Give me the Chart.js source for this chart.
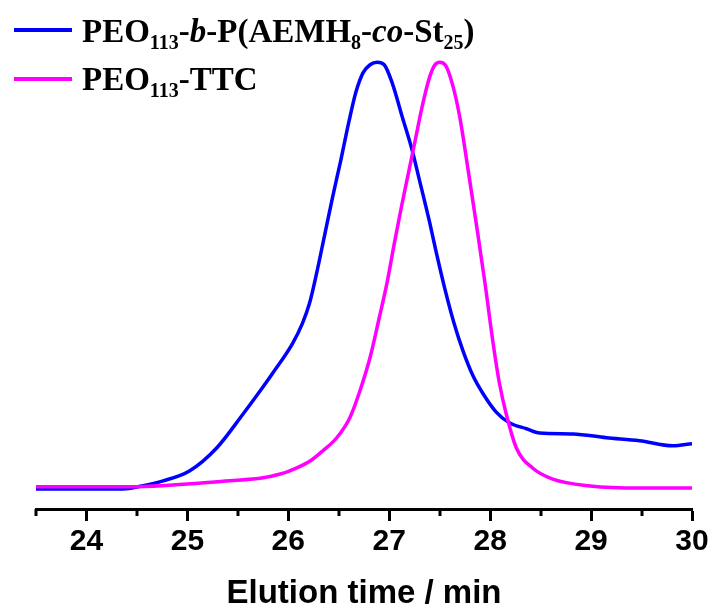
<!DOCTYPE html>
<html lang="en">
<head>
  <meta charset="UTF-8">
  <title>GPC traces</title>
  <script src="https://cdn.jsdelivr.net/npm/chart.js"></script>
  <style>
    html, body { margin: 0; padding: 0; background: #fff; }
    #wrap { position: relative; width: 714px; height: 610px; }
    .leg { position: absolute; font-family: "Liberation Serif", "Times New Roman", serif;
           font-weight: bold; font-size: 33px; line-height: 33px; color: #000; white-space: nowrap; }
    .leg sub { font-size: 20px; vertical-align: -7px; line-height: 0; }
    .swatch { position: absolute; height: 4px; width: 58px; left: 14px; }
  </style>
</head>
<body>
<div id="wrap">
  <canvas id="gpc" width="714" height="610"></canvas>
  <div class="swatch" id="sw0" style="top:28px"></div>
  <div class="leg" style="left:82px; top:15px">PEO<sub>113</sub>-<i>b</i>-P(AEMH<sub>8</sub>-<i>co</i>-St<sub>25</sub>)</div>
  <div class="swatch" id="sw1" style="top:77px"></div>
  <div class="leg" style="left:82px; top:63px">PEO<sub>113</sub>-TTC</div>
</div>
<script>
  // elution time (min) and normalised detector signal
  const blockTime = [23.5, 24.36, 24.55, 24.76, 25.02, 25.29, 25.55, 25.70, 25.85, 26.04, 26.14, 26.21, 26.28,
    26.36, 26.44, 26.52, 26.60, 26.67, 26.74, 26.81, 26.88, 26.95, 27.03, 27.13, 27.22, 27.30, 27.40,
    27.47, 27.55, 27.64, 27.73, 27.83, 27.93, 28.06, 28.19, 28.36, 28.49, 28.82, 29.15, 29.48, 29.81, 30.0];
  const blockSignal = [0, 0, 0.7, 1.9, 4.2, 9.6, 17.5, 22.3, 27.3, 34, 38.8, 43.5, 50.5,
    59.5, 68.5, 77, 86, 93, 97.5, 99.4, 100, 99.4, 95.1, 87.1, 80, 72.3, 62.5,
    55, 47, 39, 32.4, 26.5, 22.3, 18, 15.5, 14.1, 13.1, 12.9, 12, 11.3, 10.1, 10.6];

  const ttcTime = [23.5, 24.43, 25.42, 25.75, 25.92, 26.01, 26.2, 26.34, 26.48, 26.61, 26.71, 26.81, 26.90,
    26.98, 27.05, 27.12, 27.19, 27.26, 27.33, 27.40, 27.45, 27.50, 27.56, 27.63, 27.70, 27.78, 27.87,
    27.95, 28.03, 28.09, 28.16, 28.26, 28.42, 28.62, 28.99, 29.48, 30.0];
  const ttcSignal = [0.5, 0.5, 1.9, 2.6, 3.5, 4.2, 6.3, 8.9, 12.0, 16.7, 23, 30.8, 40,
    48.5, 57.5, 66, 74, 82, 90, 96.5, 99.3, 100, 99.2, 94.5, 87, 75, 61,
    48, 34, 25, 17.5, 9.6, 4.9, 2.3, 0.7, 0.2, 0.2];

  const tickVals = [24, 25, 26, 27, 28, 29, 30];
  const minorVals = [23.5, 24.5, 25.5, 26.5, 27.5, 28.5, 29.5];

  const blue = '#0000ff';
  const pink = '#ff00ff';
  document.getElementById('sw0').style.background = blue;
  document.getElementById('sw1').style.background = pink;

  function pts(xs, ys) {
    return xs.map((x, i) => ({ x: x, y: ys[i] }));
  }

  // short ticks at the half minutes (the long ones come from the grid)
  const minorTicks = {
    id: 'minorTicks',
    afterDraw(chart) {
      const sc = chart.scales.x;
      const c = chart.ctx;
      const y0 = sc.top;
      c.save();
      c.strokeStyle = '#000';
      c.lineWidth = 3;
      minorVals.forEach(v => {
        const px = Math.round(sc.getPixelForValue(v));
        c.beginPath(); c.moveTo(px, y0); c.lineTo(px, y0 + 7); c.stroke();
      });
      c.restore();
    }
  };

  const ctx = document.getElementById('gpc').getContext('2d');
  const gpcChart = new Chart(ctx, {
    type: 'line',
    data: {
      datasets: [{
        label: 'PEO113-b-P(AEMH8-co-St25)',
        data: pts(blockTime, blockSignal),
        borderColor: blue,
        borderWidth: 3.5,
        pointRadius: 0,
        cubicInterpolationMode: 'monotone',
        order: 1
      }, {
        label: 'PEO113-TTC',
        data: pts(ttcTime, ttcSignal),
        borderColor: pink,
        borderWidth: 3.5,
        pointRadius: 0,
        cubicInterpolationMode: 'monotone',
        order: 0
      }]
    },
    options: {
      responsive: false,
      animation: false,
      layout: { padding: { left: 36, right: 22, top: 40, bottom: 0 } },
      plugins: { legend: { display: false }, tooltip: { enabled: false } },
      scales: {
        x: {
          type: 'linear',
          min: 23.5,
          max: 30,
          afterBuildTicks: (axis) => { axis.ticks = tickVals.map(v => ({ value: v })); },
          grid: { display: true, drawOnChartArea: false, drawTicks: true,
                  tickLength: 12, tickWidth: 3, tickColor: '#000' },
          border: { display: true, color: '#000', width: 3 },
          ticks: {
            color: '#000',
            padding: 3,
            maxRotation: 0,
            font: { family: 'Liberation Sans', size: 30, weight: 'bold' }
          },
          title: {
            display: true,
            text: 'Elution time / min',
            color: '#000',
            padding: { top: 14, bottom: 0 },
            font: { family: 'Liberation Sans', size: 33, weight: 'bold', lineHeight: 1 }
          }
        },
        y: {
          display: false,
          min: -4.7,
          max: 105.2
        }
      }
    },
    plugins: [minorTicks]
  });
</script>
</body>
</html>
